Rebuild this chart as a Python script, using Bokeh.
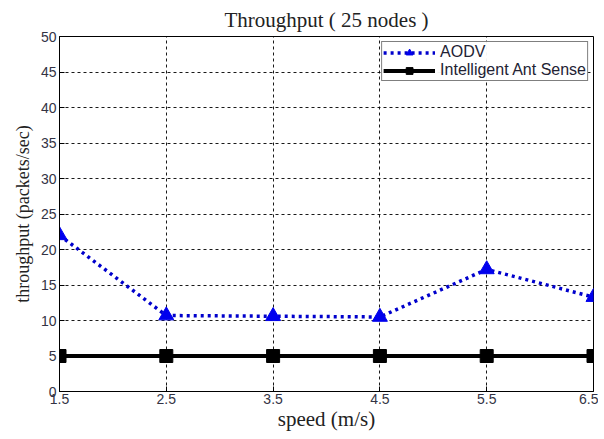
from bokeh.plotting import figure
from bokeh.models import Range1d, FixedTicker, Legend, LegendItem
from bokeh.embed import file_html
from bokeh.resources import INLINE

speed = [1.5, 2.5, 3.5, 4.5, 5.5, 6.5]
aodv = [22.0, 10.7, 10.6, 10.5, 17.2, 13.3]
ant = [5.0, 5.0, 5.0, 5.0, 5.0, 5.0]
x_ticks = [1.5, 2.5, 3.5, 4.5, 5.5, 6.5]
y_ticks = [0, 5, 10, 15, 20, 25, 30, 35, 40, 45, 50]

p = figure(width=598, height=435, output_backend="svg", toolbar_location=None,
           x_range=Range1d(1.5, 6.5), y_range=Range1d(0, 50),
           min_border_left=59, min_border_right=5, min_border_top=34, min_border_bottom=44)

p.title.text = "Throughput ( 25 nodes )"
p.title.align = "center"
p.title.text_font = "Liberation Serif"
p.title.text_font_size = "21px"
p.title.text_font_style = "normal"
p.title.text_color = "#222222"

p.outline_line_color = "black"
p.outline_line_width = 1
p.background_fill_color = "white"
p.border_fill_color = "white"

for ax in (p.xaxis[0], p.yaxis[0]):
    ax.axis_line_color = "black"
    ax.major_tick_in = 5
    ax.major_tick_out = 0
    ax.minor_tick_line_color = None
    ax.major_label_text_font = "Liberation Sans"
    ax.major_label_text_font_size = "14px"
    ax.major_label_text_color = "#333344"
    ax.axis_label_text_font = "Liberation Serif"
    ax.axis_label_text_font_style = "normal"
    ax.axis_label_text_color = "#222222"

p.xaxis.axis_label_text_font_size = "21px"
p.yaxis.axis_label_text_font_size = "18px"
p.xaxis.ticker = FixedTicker(ticks=x_ticks)
p.yaxis.ticker = FixedTicker(ticks=y_ticks)
p.xaxis.major_label_standoff = 2
p.yaxis.major_label_standoff = 3
p.xaxis.axis_label_standoff = 0
p.yaxis.axis_label_standoff = 5
p.xaxis.axis_label = "speed (m/s)"
p.yaxis.axis_label = "throughput (packets/sec)"

p.xgrid.ticker = FixedTicker(ticks=x_ticks)
p.ygrid.ticker = FixedTicker(ticks=y_ticks)
for g in (p.xgrid[0], p.ygrid[0]):
    g.grid_line_color = "black"
    g.grid_line_dash = "3 3"
    g.grid_line_width = 1
    g.grid_line_alpha = 0.9

l1 = p.line(speed, aodv, line_color="#0000cc", line_width=3.5, line_dash="3 4")
m1 = p.scatter(speed, aodv, marker="triangle", size=15, fill_color="#0000ee",
               line_color="#0000ee")
l2 = p.line(speed, ant, line_color="black", line_width=4)
m2 = p.scatter(speed, ant, marker="square", size=13, fill_color="black",
               line_color="black")

legend = Legend(items=[LegendItem(label="AODV", renderers=[l1, m1]),
                       LegendItem(label="Intelligent Ant Sense", renderers=[l2, m2])],
                location="top_right")
legend.label_text_font = "Liberation Sans"
legend.label_text_font_size = "16px"
legend.label_text_color = "#222233"
legend.border_line_color = "black"
legend.border_line_width = 1
legend.margin = 5
legend.padding = 1
legend.spacing = 0
legend.glyph_width = 52
legend.glyph_height = 17
legend.label_height = 17
legend.label_standoff = 5
p.add_layout(legend)

open("out.html", "w").write(file_html(p, INLINE))
